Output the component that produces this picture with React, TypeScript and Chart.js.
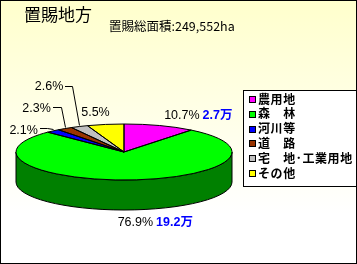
import React, { useEffect, useRef } from "react";
import { Chart, registerables } from "chart.js";
Chart.register(...registerables);

const categories = ["農用地", "森　林", "河川等", "道　路", "宅　地･工業用地", "その他"];
const percents = [10.7, 76.9, 2.1, 2.3, 2.6, 5.5];
const percentLabels = ["10.7%", "76.9%", "2.1%", "2.3%", "2.6%", "5.5%"];
const areaLabels = ["2.7万", "19.2万", "", "", "", ""];
const titleText = "置賜地方";
const subtitleText = "置賜総面積:249,552ha";

const topColors = ["#FF00FF", "#00FF00", "#0000FF", "#993300", "#C0C0C0", "#FFFF00"];
const sideColors = ["#800080", "#008000", "#000080", "#4D1A00", "#808080", "#808000"];

// label placement (style), relative to the projected mid-point of each slice's edge
const labelLayout: { dx: number; dy: number; align: CanvasTextAlign; knee?: [number, number] }[] = [
  { dx: 40, dy: -10.5, align: "right" },
  { dx: 23, dy: 43, align: "right" },
  { dx: -15, dy: 0, align: "right", knee: [-6, -3] },
  { dx: -14, dy: -20.5, align: "right", knee: [-4, -21.5] },
  { dx: -16, dy: -40, align: "right", knee: [-7, -41] },
  { dx: -10, dy: -11.5, align: "center" },
];

const SQUASH = 28 / 108;
const DEPTH = 30;
const JP = '"Noto Sans CJK JP", "Noto Sans", sans-serif';
const LAT = '"Liberation Sans", Arial, "Noto Sans CJK JP", sans-serif';

const pie3d = {
  id: "pie3d",
  beforeDraw(chart: any) {
    const { ctx, width, height } = chart;
    const g = ctx.createLinearGradient(0, 0, 0, height);
    g.addColorStop(0, "#FFFFCC");
    g.addColorStop(0.81, "#FFFFFF");
    g.addColorStop(1, "#FFFFFF");
    ctx.save();
    ctx.fillStyle = g;
    ctx.fillRect(0, 0, width, height);
    ctx.restore();
  },
  beforeDatasetsDraw(chart: any) {
    const ctx = chart.ctx;
    const meta = chart.getDatasetMeta(0);
    const a0 = meta.data[0].getProps(["x", "y", "outerRadius"], true);
    const cx = a0.x, cy = a0.y, r = a0.outerRadius, ry = r * SQUASH;
    ctx.save();
    ctx.lineWidth = 1;
    ctx.strokeStyle = "#000";
    meta.data.forEach((arc: any, i: number) => {
      const p = arc.getProps(["startAngle", "endAngle"], true);
      for (const k of [-1, 0, 1]) {
        const s = p.startAngle + 2 * Math.PI * k;
        const e = p.endAngle + 2 * Math.PI * k;
        const a = Math.max(s, 0), b = Math.min(e, Math.PI);
        if (b <= a) continue;
        ctx.beginPath();
        ctx.ellipse(cx, cy, r, ry, 0, a, b);
        ctx.lineTo(cx + r * Math.cos(b), cy + ry * Math.sin(b) + DEPTH);
        ctx.ellipse(cx, cy + DEPTH, r, ry, 0, b, a, true);
        ctx.closePath();
        ctx.fillStyle = sideColors[i];
        ctx.fill();
        ctx.stroke();
      }
    });
    ctx.restore();
    ctx.save();
    ctx.translate(cx, cy);
    ctx.scale(1, SQUASH);
    ctx.translate(-cx, -cy);
  },
  afterDatasetsDraw(chart: any) {
    const ctx = chart.ctx;
    ctx.restore();
    const meta = chart.getDatasetMeta(0);
    const a0 = meta.data[0].getProps(["x", "y", "outerRadius"], true);
    const cx = a0.x, cy = a0.y, r = a0.outerRadius, ry = r * SQUASH;
    ctx.save();
    ctx.lineWidth = 1;
    ctx.strokeStyle = "#000";
    meta.data.forEach((arc: any) => {
      const p = arc.getProps(["startAngle", "endAngle"], true);
      ctx.beginPath();
      ctx.moveTo(cx, cy);
      ctx.ellipse(cx, cy, r, ry, 0, p.startAngle, p.endAngle);
      ctx.closePath();
      ctx.stroke();
    });
    // labels
    ctx.textBaseline = "middle";
    meta.data.forEach((arc: any, i: number) => {
      const p = arc.getProps(["startAngle", "endAngle"], true);
      const mid = (p.startAngle + p.endAngle) / 2;
      const ex = cx + r * Math.cos(mid), ey = cy + ry * Math.sin(mid);
      const L = labelLayout[i];
      const tx = ex + L.dx, ty = ey + L.dy;
      ctx.font = `12.5px ${LAT}`;
      ctx.fillStyle = "#000";
      ctx.textAlign = L.align;
      ctx.fillText(percentLabels[i], tx, ty);
      if (L.knee) {
        const kx = ex + L.knee[0], ky = ey + L.knee[1];
        ctx.beginPath();
        ctx.moveTo(Math.round(ex) + 0.5, Math.round(ey) - 1.5);
        ctx.lineTo(Math.round(kx) + 0.5, Math.round(ky) + 0.5);
        ctx.lineTo(Math.round(tx) + 2, Math.round(ky) + 0.5);
        ctx.stroke();
      }
      if (areaLabels[i]) {
        const w = ctx.measureText(percentLabels[i]).width;
        const rightEnd = L.align === "right" ? tx : L.align === "center" ? tx + w / 2 : tx + w;
        ctx.font = `bold 12.5px ${LAT}`;
        ctx.fillStyle = "#0000FF";
        ctx.textAlign = "left";
        ctx.fillText(areaLabels[i], rightEnd + 3, ty);
      }
    });
    // legend
    ctx.fillStyle = "#FFFFFF";
    ctx.fillRect(243, 90, 113, 96);
    ctx.strokeStyle = "#000";
    ctx.strokeRect(243.5, 90.5, 113, 96);
    ctx.textAlign = "left";
    ctx.font = `bold 12px ${JP}`;
    (ctx as any).letterSpacing = "0.6px";
    categories.forEach((c, i) => {
      const y = 99 + i * 14.8;
      const yy = Math.round(y);
      ctx.fillStyle = topColors[i];
      ctx.fillRect(249, yy - 3, 7, 7);
      ctx.strokeRect(249.5, yy - 3 + 0.5, 6, 6);
      ctx.fillStyle = "#000";
      ctx.fillText(c, 258, y);
    });
    (ctx as any).letterSpacing = "0px";
    // titles
    ctx.font = `17px ${JP}`;
    ctx.fillText(titleText, 24, 15);
    ctx.font = `12.5px ${JP}`;
    ctx.fillText(subtitleText, 109, 26);
    // frame
    ctx.strokeRect(0.5, 0.5, chart.width - 1, chart.height - 1);
    ctx.restore();
  },
};

export default function App() {
  const ref = useRef<HTMLCanvasElement>(null);
  useEffect(() => {
    document.body.style.margin = "0";
    const chart = new Chart(ref.current!, {
      type: "pie",
      data: {
        labels: categories,
        datasets: [{ data: percents, backgroundColor: topColors, borderWidth: 0 }],
      },
      options: {
        responsive: false,
        animation: false,
        layout: { padding: { left: 16, right: 125, top: 44, bottom: 4 } },
        plugins: { legend: { display: false }, tooltip: { enabled: false } },
      },
      plugins: [pie3d],
    });
    return () => chart.destroy();
  }, []);
  return <canvas ref={ref} width={357} height={264} style={{ display: "block" }} />;
}
